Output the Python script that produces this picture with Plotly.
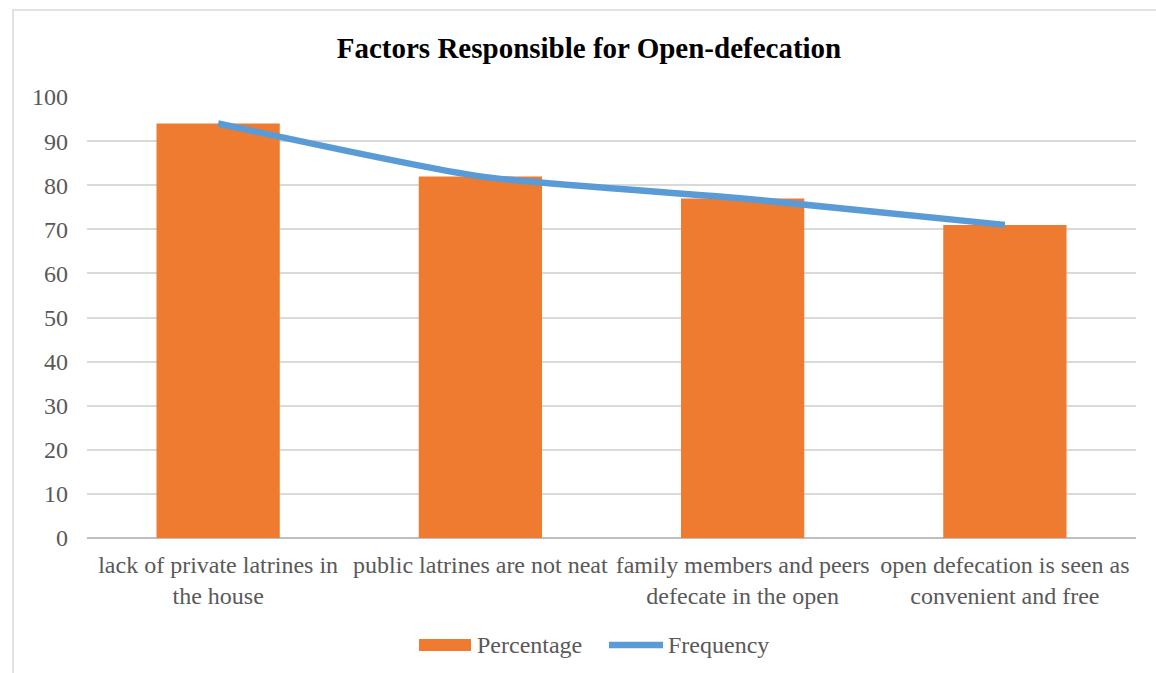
import plotly.graph_objects as go

# Chart data
categories = [
    "lack of private latrines in<br>the house",
    "public latrines are not neat",
    "family members and peers<br>defecate in the open",
    "open defecation is seen as<br>convenient and free",
]
percentage = [94, 82, 77, 71]
frequency = [94, 82, 77, 71]
y_ticks = list(range(0, 101, 10))

W, H = 1156, 673
L, R, T, B = 87, 20, 97, 135
pw, ph = W - L - R, H - T - B

FONT = "Liberation Serif"
GREY = "#595959"
ORANGE = "#EE7B30"
BLUE = "#5B9BD5"


def px(x):
    return (x - L) / pw


def py(y):
    return (H - B - y) / ph


fig = go.Figure()
fig.add_trace(go.Bar(
    x=categories, y=percentage, name="Percentage",
    marker=dict(color=ORANGE, line=dict(width=0)),
    width=0.47, showlegend=False,
))
fig.add_trace(go.Scatter(
    x=categories, y=frequency, name="Frequency", mode="lines",
    line=dict(color=BLUE, width=6.5, shape="spline", smoothing=0.6),
    showlegend=False,
))

# outer chart frame (left and top edges visible)
fig.add_shape(type="rect", xref="paper", yref="paper",
              x0=px(13), x1=px(W + 20), y0=py(H + 20), y1=py(10),
              line=dict(color="#D9D9D9", width=1.5), layer="below")

# legend drawn below the plot
fig.add_shape(type="rect", xref="paper", yref="paper",
              x0=px(419), x1=px(471), y0=py(651), y1=py(639),
              fillcolor=ORANGE, line=dict(width=0))
fig.add_shape(type="line", xref="paper", yref="paper",
              x0=px(609), x1=px(663), y0=py(645), y1=py(645),
              line=dict(color=BLUE, width=6.5))
fig.add_annotation(text="Percentage", xref="paper", yref="paper",
                   x=px(475), y=py(645), xanchor="left", yanchor="middle",
                   showarrow=False, font=dict(family=FONT, size=24, color=GREY))
fig.add_annotation(text="Frequency", xref="paper", yref="paper",
                   x=px(666), y=py(645), xanchor="left", yanchor="middle",
                   showarrow=False, font=dict(family=FONT, size=24, color=GREY))

fig.update_layout(
    width=W, height=H,
    margin=dict(l=L, r=R, t=T, b=B),
    paper_bgcolor="white", plot_bgcolor="white",
    title=dict(text="<b>Factors Responsible for Open-defecation</b>",
               x=px(589), xanchor="center", xref="paper",
               y=1 - 48 / H, yanchor="middle",
               font=dict(family=FONT, size=29, color="black")),
    font=dict(family=FONT, size=24, color=GREY),
    showlegend=False,
    xaxis=dict(showgrid=False, showline=False, ticks="",
               ticklabelstandoff=10,
               tickfont=dict(family=FONT, size=24, color=GREY)),
    yaxis=dict(range=[0, 100], tickvals=y_ticks, showgrid=True,
               gridcolor="#D9D9D9", gridwidth=1.5, zeroline=True,
               zerolinecolor="#BFBFBF", zerolinewidth=1.5, showline=False,
               ticks="", ticklabelstandoff=18,
               tickfont=dict(family=FONT, size=24, color=GREY)),
)

fig.write_html("out.html")
